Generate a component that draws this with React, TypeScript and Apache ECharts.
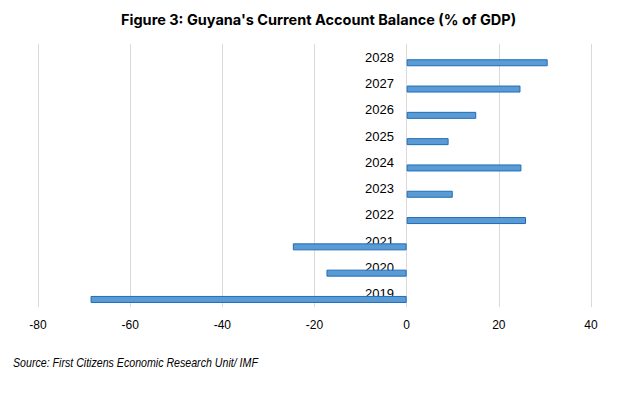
import React, { useEffect, useRef } from "react";
import * as echarts from "echarts";

const years = ["2019", "2020", "2021", "2022", "2023", "2024", "2025", "2026", "2027", "2028"];
const balance = [-68.6, -17.4, -24.7, 25.9, 10.0, 24.9, 9.1, 15.1, 24.7, 30.6];
const placeholder = years.map(() => null);
const xTicks = { min: -80, max: 40, interval: 20 };

export default function App() {
  const ref = useRef<HTMLDivElement>(null);
  useEffect(() => {
    if (!ref.current) return;
    const chart = echarts.init(ref.current, null, { renderer: "svg" });
    chart.setOption({
      animation: false,
      backgroundColor: "#ffffff",
      title: {
        text: "Figure 3: Guyana's Current Account Balance (% of GDP)",
        left: 116,
        top: 7,
        textStyle: { fontFamily: "Inter", fontWeight: "bold", fontSize: 14.5, color: "#000" },
      },
      graphic: [
        {
          type: "text",
          left: 13,
          top: 356,
          scaleX: 0.85,
          style: {
            text: "Source: First Citizens Economic Research Unit/ IMF",
            font: "italic 12.5px 'Liberation Sans', sans-serif",
            fill: "#000",
          },
        },
      ],
      grid: { left: 38, right: 49, top: 44, bottom: 86, outerBoundsMode: "none", containLabel: false },
      xAxis: {
        type: "value",
        min: xTicks.min,
        max: xTicks.max,
        interval: xTicks.interval,
        axisLine: { show: false },
        axisTick: { show: false },
        splitLine: { show: true, lineStyle: { color: "#d9d9d9", width: 1 } },
        axisLabel: { color: "#000", fontSize: 12, fontFamily: "Liberation Sans", margin: 12 },
      },
      yAxis: {
        type: "category",
        data: years,
        position: "left",
        offset: -368,
        axisLine: { show: false, onZero: false },
        axisTick: { show: false },
        axisLabel: { color: "#000", fontSize: 13, fontFamily: "Liberation Sans", margin: 12, padding: [0, 0, 4, 0] },
      },
      series: [
        {
          type: "bar",
          data: placeholder,
          barWidth: 7,
          barGap: "60%",
          itemStyle: { color: "transparent" },
        },
        {
          type: "bar",
          data: balance,
          barWidth: 7,
          barGap: "60%",
          itemStyle: { color: "#5b9bd5", borderColor: "#1f6db5", borderWidth: 1 },
        },
      ],
    });
    return () => chart.dispose();
  }, []);
  return <div ref={ref} style={{ position: "fixed", left: 0, top: 0, width: 640, height: 393 }} />;
}
